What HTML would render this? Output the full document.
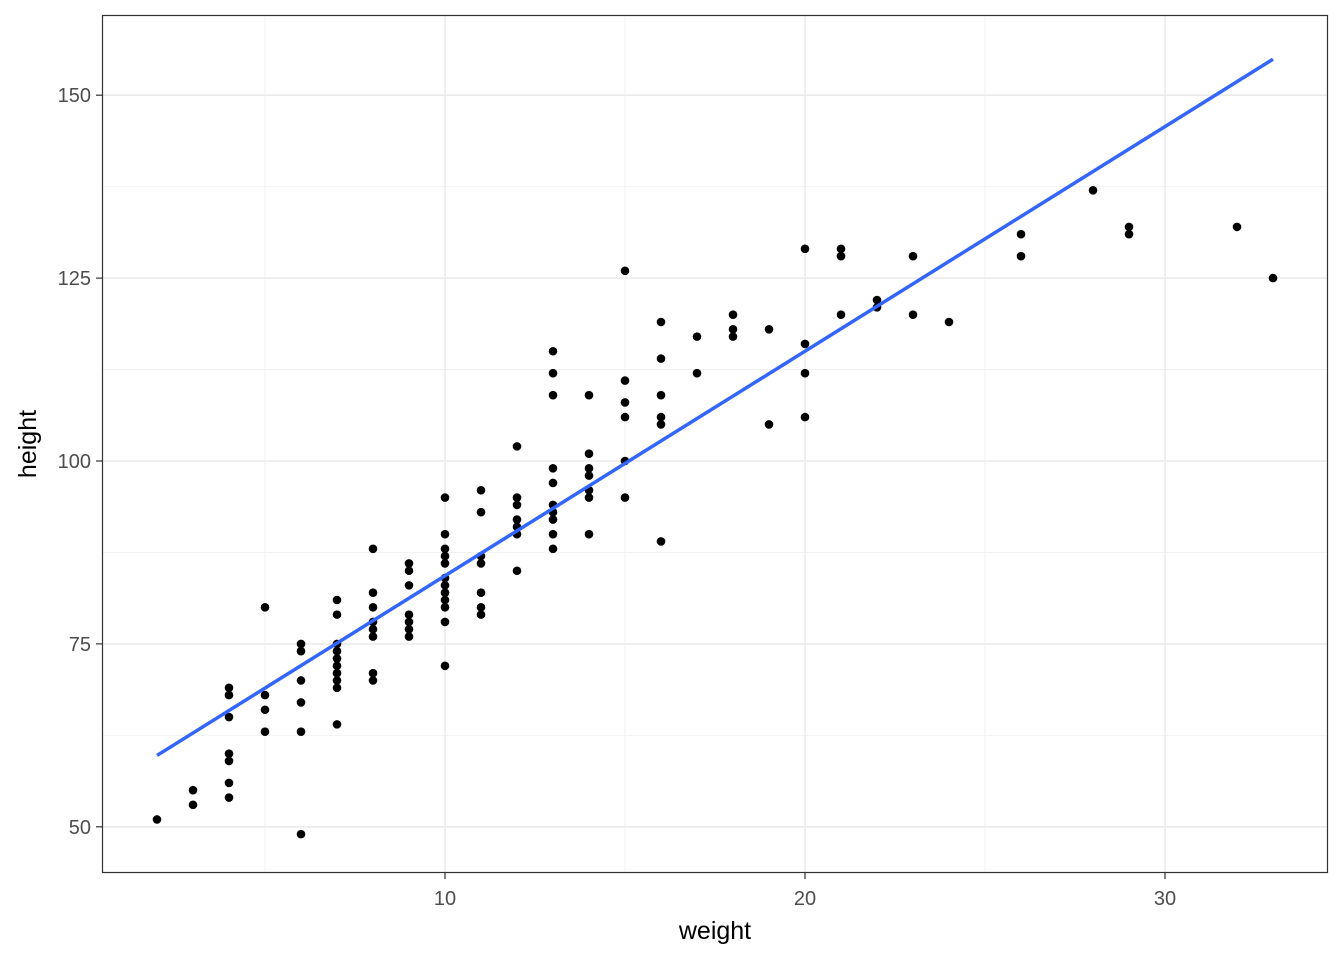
<!DOCTYPE html>
<html><head><meta charset="utf-8"><style>
body{margin:0;background:#fff;}
svg{display:block;font-family:"Liberation Sans",sans-serif;}
</style></head><body>
<svg id="chart" width="1344" height="960" viewBox="0 0 1344 960">
<rect width="1344" height="960" fill="#fff"/>
<g id="grid"></g>
<g id="points"></g>
<g id="fit"></g>
<rect x="102.5" y="15.5" width="1225" height="857" fill="none" stroke="#333" stroke-width="1.2"/>
<g id="axes"></g>
<text x="715" y="939" font-size="25" text-anchor="middle" fill="#000">weight</text>
<text transform="translate(36,444) rotate(-90)" font-size="25" text-anchor="middle" fill="#000">height</text>
</svg>
<script>
const weights=[2,3,3,4,4,4,4,4,4,4,5,5,5,5,6,6,6,6,6,6,7,7,7,7,7,7,7,7,7,7,8,8,8,8,8,8,8,8,9,9,9,9,9,9,9,10,10,10,10,10,10,10,10,10,10,10,10,11,11,11,11,11,11,11,12,12,12,12,12,12,12,13,13,13,13,13,13,13,13,13,13,14,14,14,14,14,14,14,15,15,15,15,15,15,16,16,16,16,16,16,17,17,18,18,18,19,19,20,20,20,20,21,21,21,22,22,23,23,24,26,26,28,29,29,32,33];
const heights=[51,55,53,69,68,65,60,59,56,54,80,68,66,63,75,74,70,67,63,49,81,79,75,74,73,72,71,70,69,64,88,82,80,78,77,76,71,70,86,85,83,79,78,77,76,95,90,88,87,86,84,83,82,81,80,78,72,96,93,87,86,82,80,79,102,95,94,92,91,90,85,115,112,109,99,97,94,93,92,90,88,109,101,99,98,96,95,90,126,111,108,106,100,95,119,114,109,106,105,89,117,112,120,118,117,118,105,129,116,112,106,129,128,120,122,121,128,120,119,131,128,137,132,131,132,125];
const xTicks=[10,20,30];
const xMinor=[5,15,25];
const yTicks=[50,75,100,125,150];
const yMinor=[62.5,87.5,112.5,137.5];
const X=v=>445+(v-10)*36;
const Y=v=>461-(v-100)*7.316;
const NS="http://www.w3.org/2000/svg";
function mk(t,a,p){const e=document.createElementNS(NS,t);for(const k in a)e.setAttribute(k,a[k]);p.appendChild(e);return e;}
const grid=document.getElementById('grid'),axes=document.getElementById('axes');
xMinor.forEach(v=>{const l=mk('line',{x1:X(v),x2:X(v),y1:15,y2:873,stroke:'#f2f2f2','stroke-width':1},grid);

});
yMinor.forEach(v=>{const l=mk('line',{x1:102,x2:1328,y1:Y(v),y2:Y(v),stroke:'#f2f2f2','stroke-width':1},grid);

});
xTicks.forEach(v=>{const l=mk('line',{x1:X(v),x2:X(v),y1:15,y2:873,stroke:'#ebebeb','stroke-width':1.6},grid);


const t=mk('line',{x1:X(v),x2:X(v),y1:873,y2:879,stroke:'#333','stroke-width':1.2},axes);


const tx=mk('text',{x:X(v),y:905,'font-size':20,'text-anchor':'middle',fill:'#4d4d4d'},axes);tx.textContent=v;

});
yTicks.forEach(v=>{const l=mk('line',{x1:102,x2:1328,y1:Y(v),y2:Y(v),stroke:'#ebebeb','stroke-width':1.6},grid);


const t=mk('line',{x1:96,x2:102,y1:Y(v),y2:Y(v),stroke:'#333','stroke-width':1.2},axes);


const tx=mk('text',{x:91,y:Y(v)+7,'font-size':20,'text-anchor':'end',fill:'#4d4d4d'},axes);tx.textContent=v;

});
const pts=document.getElementById('points');
weights.forEach((w,i)=>{const c=mk('circle',{cx:X(w),cy:Y(heights[i]),r:4.3,fill:'#000'},pts);

});
// linear regression fit
const n=weights.length,mx=weights.reduce((a,b)=>a+b)/n,my=heights.reduce((a,b)=>a+b)/n;
let sxy=0,sxx=0;weights.forEach((w,i)=>{sxy+=(w-mx)*(heights[i]-my);sxx+=(w-mx)*(w-mx);});
const b=sxy/sxx,a=my-b*mx;
const xmin=Math.min(...weights),xmax=Math.max(...weights);
const fl=mk('line',{x1:X(xmin),y1:Y(a+b*xmin),x2:X(xmax),y2:Y(a+b*xmax),stroke:'#3366ff','stroke-width':3.5},document.getElementById('fit'));


</script>
</body></html>
